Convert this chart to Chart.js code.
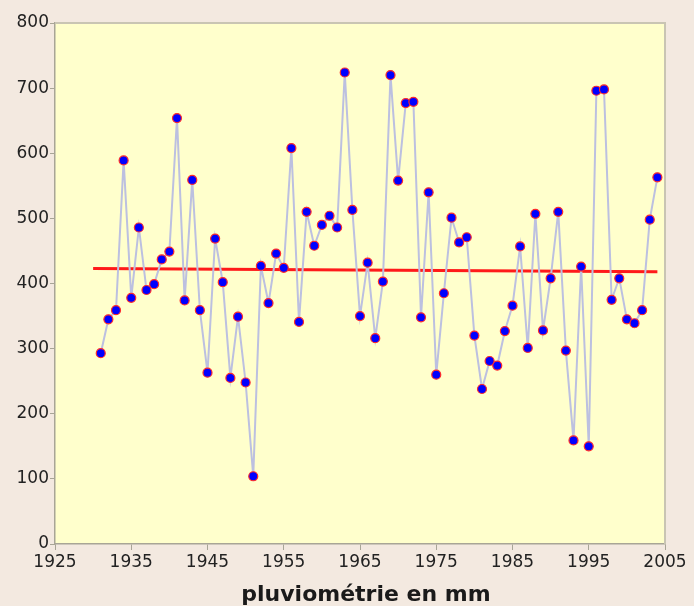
<!DOCTYPE html>
<html>
<head>
<meta charset="utf-8">
<script src="https://cdn.jsdelivr.net/npm/chart.js@4.4.1/dist/chart.umd.min.js"></script>
<style>
  html, body { margin: 0; padding: 0; background: #f3e9e0; }
  #wrap { width: 694px; height: 606px; }
</style>
</head>
<body>
<div id="wrap"><canvas id="chart" width="694" height="606"></canvas></div>
<script>
// Annual rainfall (mm), plus its trend line.
const years = [
  1931, 1932, 1933, 1934, 1935, 1936, 1937, 1938, 1939, 1940,
  1941, 1942, 1943, 1944, 1945, 1946, 1947, 1948, 1949, 1950,
  1951, 1952, 1953, 1954, 1955, 1956, 1957, 1958, 1959, 1960,
  1961, 1962, 1963, 1964, 1965, 1966, 1967, 1968, 1969, 1970,
  1971, 1972, 1973, 1974, 1975, 1976, 1977, 1978, 1979, 1980,
  1981, 1982, 1983, 1984, 1985, 1986, 1987, 1988, 1989, 1990,
  1991, 1992, 1993, 1994, 1995, 1996, 1997, 1998, 1999, 2000,
  2001, 2002, 2003, 2004,
];
const rainfall = [
  293, 345, 359, 589, 378, 486, 390, 399, 437, 449,
  654, 374, 559, 359, 263, 469, 402, 255, 349, 248,
  104, 427, 370, 446, 424, 608, 341, 510, 458, 490,
  504, 486, 724, 513, 350, 432, 316, 403, 720, 558,
  677, 679, 348, 540, 260, 385, 501, 463, 471, 320,
  238, 281, 274, 327, 366, 457, 301, 507, 328, 408,
  510, 297, 159, 426, 150, 696, 698, 375, 408, 345,
  339, 359, 498, 563,
];
const trendYears = [1930, 2004];
const trendValues = [423, 418];

const xTicks = [1925, 1935, 1945, 1955, 1965, 1975, 1985, 1995, 2005];
const yTicks = [0, 100, 200, 300, 400, 500, 600, 700, 800];
const xTitle = "pluviométrie en mm";

const FONT = '"DejaVu Sans", Verdana, sans-serif';

const frame = {
  id: "frame",
  beforeDraw(chart) {
    const { ctx, chartArea: a } = chart;
    ctx.save();
    ctx.fillStyle = "#f3e9e0";
    ctx.fillRect(0, 0, chart.width, chart.height);
    ctx.fillStyle = "#ffffcc";
    ctx.fillRect(a.left, a.top, a.width, a.height);
    ctx.restore();
  },
  beforeDatasetsDraw(chart) {
    const { ctx, chartArea: a } = chart;
    ctx.save();
    ctx.strokeStyle = "#c9c5b3";
    ctx.lineWidth = 2;
    ctx.beginPath();
    ctx.moveTo(a.left, a.top);
    ctx.lineTo(a.right, a.top);
    ctx.lineTo(a.right, a.bottom);
    ctx.stroke();
    ctx.restore();
  },
  afterDraw(chart) {
    const { ctx, chartArea: a } = chart;
    ctx.save();
    ctx.fillStyle = "#1a1a1a";
    ctx.font = `bold 22px ${FONT}`;
    ctx.textAlign = "center";
    ctx.textBaseline = "alphabetic";
    ctx.fillText(xTitle, (a.left + a.right) / 2 + 6, 601);
    ctx.restore();
  },
};

new Chart(document.getElementById("chart").getContext("2d"), {
  type: "scatter",
  data: {
    datasets: [
      {
        label: "pluviométrie",
        data: years.map((y, i) => ({ x: y, y: rainfall[i] })),
        showLine: true,
        borderColor: "#bcc0e0",
        borderWidth: 2,
        pointRadius: 4.5,
        pointBackgroundColor: "#0000ff",
        pointBorderColor: "#ff2a2a",
        pointBorderWidth: 1.2,
        order: 0,
      },
      {
        label: "tendance",
        data: trendYears.map((y, i) => ({ x: y, y: trendValues[i] })),
        showLine: true,
        borderColor: "#ff1a1a",
        borderWidth: 3,
        pointRadius: 0,
        order: 1,
      },
    ],
  },
  options: {
    responsive: false,
    animation: false,
    devicePixelRatio: 1,
    layout: { padding: { left: 0, right: 29, top: 23, bottom: 0 } },
    plugins: { legend: { display: false }, tooltip: { enabled: false } },
    scales: {
      x: {
        type: "linear",
        min: 1925,
        max: 2005,
        afterBuildTicks: (s) => { s.ticks = xTicks.map((v) => ({ value: v })); },
        afterFit: (s) => { s.height = 62; },
        ticks: {
          color: "#222",
          font: { family: FONT, size: 17 },
          padding: 2,
          maxRotation: 0,
          callback: (v) => String(v),
        },
        grid: { drawOnChartArea: false, tickLength: 6, color: "#a8a596" },
        border: { color: "#a8a596", width: 1.5 },
      },
      y: {
        min: 0,
        max: 800,
        afterBuildTicks: (s) => { s.ticks = yTicks.map((v) => ({ value: v })); },
        afterFit: (s) => { s.width = 55; },
        ticks: {
          color: "#222",
          font: { family: FONT, size: 17 },
          padding: 1,
          callback: (v) => String(v),
        },
        grid: { drawOnChartArea: false, tickLength: 5, color: "#a8a596" },
        border: { color: "#a8a596", width: 1.5 },
      },
    },
  },
  plugins: [frame],
});
</script>
</body>
</html>
